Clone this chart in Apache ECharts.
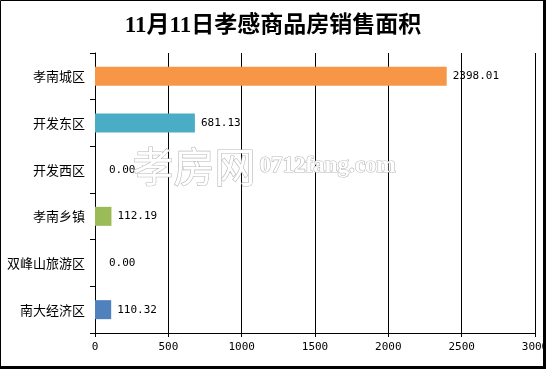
<!DOCTYPE html>
<html><head><meta charset="utf-8">
<script src="https://cdn.jsdelivr.net/npm/echarts@6/dist/echarts.min.js"></script>
<style>html,body{margin:0;padding:0;background:#fff}#c{width:546px;height:369px}</style>
</head><body><div id="c"></div>
<script>
const titleText = '11月11日孝感商品房销售面积';
const categories = ['孝南城区', '开发东区', '开发西区', '孝南乡镇', '双峰山旅游区', '南大经济区'];
const values = [2398.01, 681.13, 0.00, 112.19, 0.00, 110.32];
const barColors = ['#F79646', '#4BACC6', '#F79646', '#9BBB59', '#4BACC6', '#4F81BD'];
const xMin = 0, xMax = 3000, xStep = 500;
const watermarkCn = '孝房网';
const watermarkEn = '0712fang.com';

const mono = "'DejaVu Sans Mono', 'Liberation Mono', monospace";
const cjk = "'Noto Sans CJK SC', sans-serif";

const chart = echarts.init(document.getElementById('c'), null, {renderer: 'canvas'});
chart.setOption({
  animation: false,
  backgroundColor: '#fff',
  title: {
    text: titleText, left: 'center', top: 10,
    textStyle: {fontSize: 23, fontWeight: 'bold', color: '#000',
      fontFamily: "'Liberation Serif', 'Noto Sans CJK SC', serif"}
  },
  grid: {left: 95, right: 11, top: 53, bottom: 36, containLabel: false, outerBoundsMode: 'none'},
  xAxis: {
    type: 'value', min: xMin, max: xMax, interval: xStep,
    axisLine: {show: true, lineStyle: {color: '#000', width: 1}},
    axisTick: {show: true, length: 4, lineStyle: {color: '#000'}},
    splitLine: {show: true, lineStyle: {color: '#000', width: 1}},
    axisLabel: {color: '#000', fontSize: 11, fontFamily: mono, margin: 9,
      formatter: v => String(v)}
  },
  yAxis: {
    type: 'category', data: categories, inverse: true,
    axisLine: {show: true, lineStyle: {color: '#000', width: 1}},
    axisTick: {show: true, length: 5, alignWithLabel: false, lineStyle: {color: '#000'}},
    axisLabel: {color: '#000', fontSize: 13, fontFamily: cjk, margin: 10}
  },
  series: [{
    type: 'bar', barWidth: 19,
    data: values.map((v, i) => ({
      value: v,
      itemStyle: {color: barColors[i]},
      label: {distance: v === 0 ? 14 : 6}
    })),
    label: {
      show: true, position: 'right', color: '#000', fontSize: 11, fontFamily: mono,
      formatter: p => Number(p.value).toFixed(2)
    },
    z: 3
  }],
  graphic: [
    {type: 'text', left: 132, top: 145, z: 5,
      style: {text: watermarkCn, font: "41px 'Noto Sans CJK SC'", fill: '#fff', stroke: '#b8b8b8', lineWidth: 1.2}},
    {type: 'text', left: 259, top: 154, z: 5,
      style: {text: watermarkEn, font: "bold 23px 'Liberation Serif'", fill: '#fff', stroke: '#b8b8b8', lineWidth: 1.2}},
    {type: 'rect', z: 100, shape: {x: 0.5, y: 0.5, width: 543, height: 366},
      style: {fill: 'none', stroke: '#000', lineWidth: 1}},
    {type: 'rect', z: 100, shape: {x: 543, y: 0, width: 3, height: 369}, style: {fill: '#000'}},
    {type: 'rect', z: 100, shape: {x: 0, y: 366, width: 546, height: 3}, style: {fill: '#000'}}
  ]
});
</script></body></html>
